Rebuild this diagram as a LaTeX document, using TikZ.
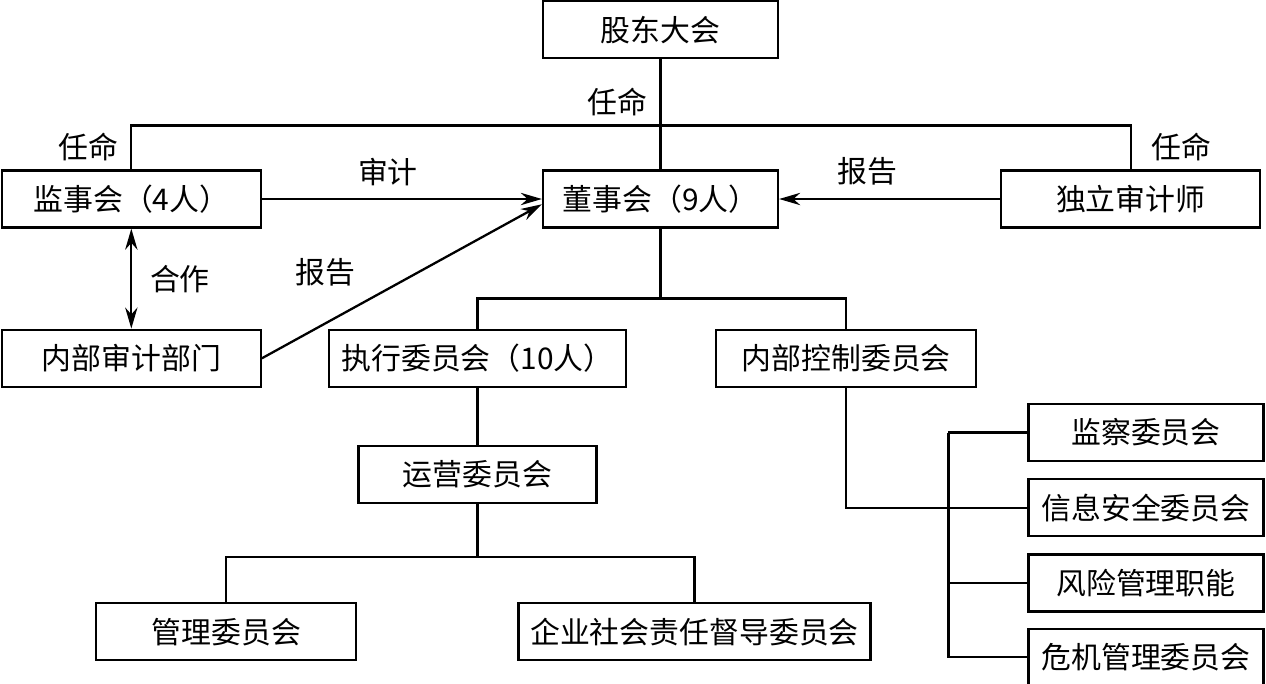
\documentclass[tikz,border=0pt]{standalone}
\usepackage{fontspec}
\setmainfont{Noto Sans CJK SC}
\usetikzlibrary{arrows.meta,positioning}

\begin{document}
\begin{tikzpicture}[
  x=0.02cm, y=-0.02cm,
  >={Stealth[length=12pt,width=7pt]},
  line width=1.3pt,
  font=\fontsize{17}{20}\selectfont,
  box/.style={draw, minimum height=1.14cm, minimum width=4.7cm, inner sep=2pt},
  lbl/.style={inner sep=7pt},
  ]
  \useasboundingbox (0,0) rectangle (1266,683);

  \node[box] (dsh) at (660.5,199) {董事会（9人）};
  \node[box, above = 2.2cm of dsh] (gd) {股东大会};
  \node[box, minimum width=5.18cm, left = 5.6cm of dsh] (jsh) {监事会（4人）};
  \node[box, minimum width=5.18cm, right = 4.42cm of dsh] (dlsj) {独立审计师};
  \node[box, minimum width=5.18cm, below = 2cm of jsh] (nbsj) {内部审计部门};
  \node[box, minimum width=5.94cm, right = 1.32cm of nbsj] (zx) {执行委员会（10人）};
  \node[box, minimum width=5.2cm, right = 1.76cm of zx] (nbkz) {内部控制委员会};
  \node[box, minimum width=4.76cm, below = 1.14cm of zx] (yy) {运营委员会};
  \node[box, minimum width=5.2cm, below left = 1.96cm and 0cm of yy] (gl) {管理委员会};
  \node[box, minimum width=7.04cm, right = 3.2cm of gl] (qy) {企业社会责任督导委员会};
  \node[box, below right = 0.3cm and 1.0cm of nbkz] (jc) {监察委员会};
  \node[box, below = 0.32cm of jc] (xx) {信息安全委员会};
  \node[box, below = 0.32cm of xx] (fx) {风险管理职能};
  \node[box, below = 0.3cm of fx] (wj) {危机管理委员会};

  % appointment lines
  \draw (gd) -- node[lbl, left, pos=0.39] {任命} (dsh);
  \draw (jsh.north) -- node[lbl, left] {任命} ++(0,0.88cm) -| node[lbl, right, pos=0.75, inner sep=11pt] {任命} (dlsj.north);

  \draw [->] (jsh) -- node[lbl, above, pos=0.45] {审计} (dsh);
  \draw [->] (dlsj) -- node[lbl, above, pos=0.6] {报告} (dsh);
  \draw [<->] (jsh) -- node[lbl, right, inner sep=10pt] {合作} (nbsj);
  \draw [->] (nbsj.east) -- node[lbl, above left, pos=0.38] {报告} ([yshift=-3pt]dsh.west);

  % committees under the board
  \draw (dsh.south) -- ++(0,-1.4cm) coordinate (b1);
  \draw (zx.north) |- (b1) -| (nbkz.north);
  \draw (zx) -- (yy);
  \draw (yy.south) -- ++(0,-1.06cm) coordinate (b2);
  \draw (gl.north) |- (b2) -| (qy.north);

  \draw (nbkz.south) |- (xx.west);
  \draw (jc.west) -- ++(-1.58cm,0) coordinate (c1);
  \draw (c1) |- (wj.west);
  \draw (c1 |- fx.west) -- (fx.west);

\end{tikzpicture}
\end{document}
